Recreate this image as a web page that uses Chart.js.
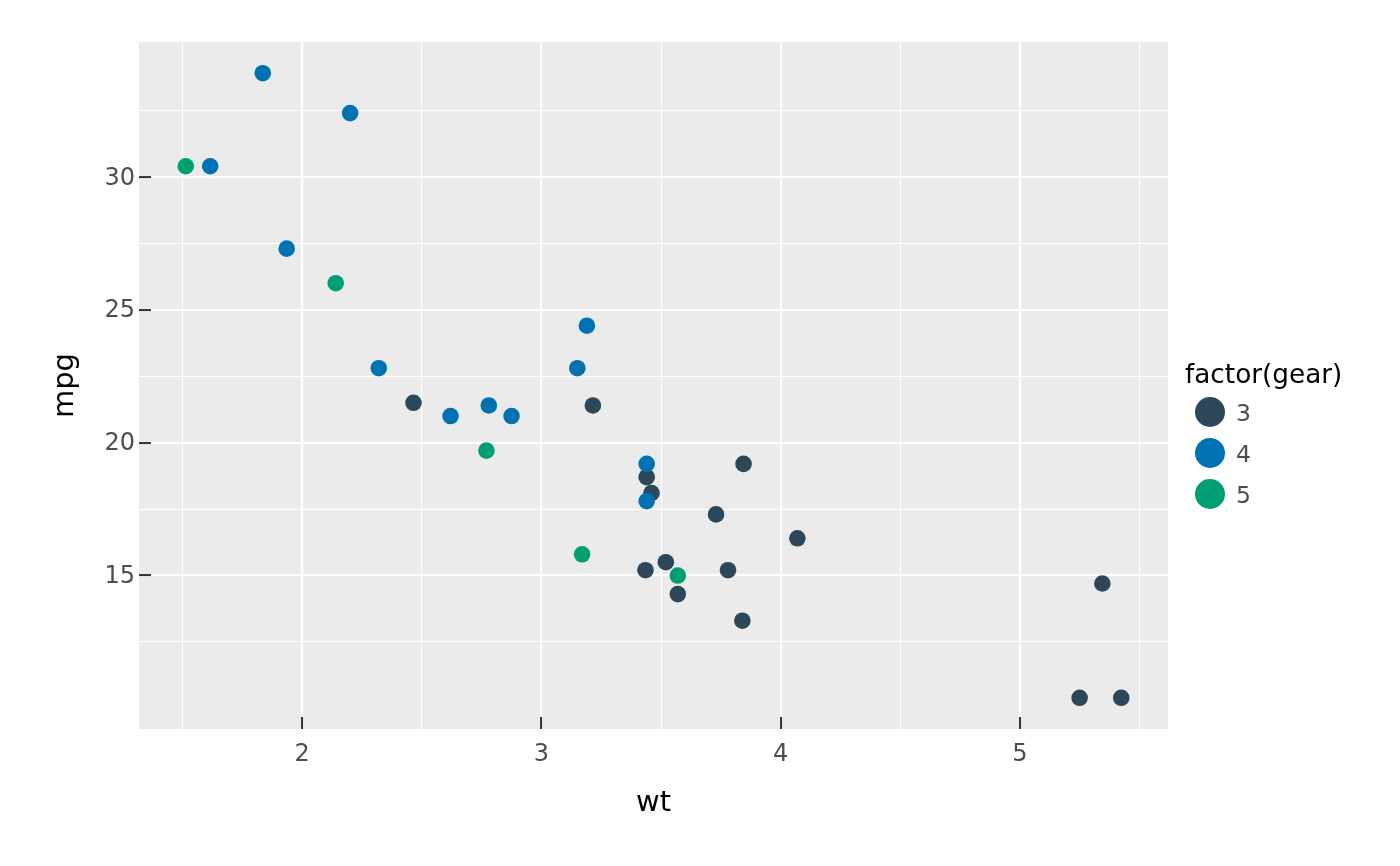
<!DOCTYPE html>
<html><head><meta charset="utf-8">
<script src="https://cdn.jsdelivr.net/npm/chart.js@4"></script>
<style>html,body{margin:0;padding:0;background:#fff}canvas{display:block}</style>
</head><body>
<canvas id="c" width="1400" height="866"></canvas>
<script>
// mtcars: wt vs mpg, grouped by gear
const gear3Wt  = [3.215, 3.440, 3.460, 3.570, 4.070, 3.730, 3.780, 5.250, 5.424, 5.345, 2.465, 3.520, 3.435, 3.840, 3.845];
const gear3Mpg = [21.4, 18.7, 18.1, 14.3, 16.4, 17.3, 15.2, 10.4, 10.4, 14.7, 21.5, 15.5, 15.2, 13.3, 19.2];
const gear4Wt  = [2.620, 2.875, 2.320, 3.190, 3.150, 3.440, 3.440, 2.200, 1.615, 1.835, 1.935, 2.780];
const gear4Mpg = [21.0, 21.0, 22.8, 24.4, 22.8, 19.2, 17.8, 32.4, 30.4, 33.9, 27.3, 21.4];
const gear5Wt  = [2.140, 1.513, 3.170, 2.770, 3.570];
const gear5Mpg = [26.0, 30.4, 15.8, 19.7, 15.0];
const gearLabels = ['3', '4', '5'];
const gearColors = ['#2c4759', '#0072b2', '#009e73'];
const xMajor = [2, 3, 4, 5];
const xMinor = [1.5, 2.5, 3.5, 4.5, 5.5];
const yMajor = [15, 20, 25, 30];
const yMinor = [12.5, 17.5, 22.5, 27.5, 32.5];
const xTitle = 'wt';
const yTitle = 'mpg';
const legendTitle = 'factor(gear)';

const allWt = gear3Wt.concat(gear4Wt, gear5Wt);
const allMpg = gear3Mpg.concat(gear4Mpg, gear5Mpg);
function expanded(arr) {
  const lo = Math.min(...arr), hi = Math.max(...arr), pad = (hi - lo) * 0.05;
  return [lo - pad, hi + pad];
}
const [xMin, xMax] = expanded(allWt);
const [yMin, yMax] = expanded(allMpg);

function pts(xs, ys) { return xs.map((x, i) => ({x: x, y: ys[i]})); }

const FONT = "'DejaVu Sans', sans-serif";

function axis(major, minor, min, max, title, pos) {
  const isMajor = v => major.includes(v);
  return {
    type: 'linear', position: pos, min: min, max: max,
    afterBuildTicks: s => { s.ticks = major.concat(minor).sort((a, b) => a - b).map(v => ({value: v})); },
    afterFit: s => { if (pos === 'bottom') s.height = 137; else s.width = 139; },
    ticks: {
      autoSkip: false, maxRotation: 0, minRotation: 0,
      padding: pos === 'bottom' ? 23 : 16,
      labelOffset: pos === 'bottom' ? 0 : 1.5,
      color: '#4d4d4d',
      font: {family: FONT, size: 24},
      callback: v => isMajor(v) ? String(v) : ''
    },
    grid: {
      color: '#ffffff',
      lineWidth: c => (c.tick && isMajor(c.tick.value)) ? 2.1 : 1.05,
      drawTicks: true,
      tickLength: -12,
      tickWidth: 2,
      tickColor: c => (c.tick && isMajor(c.tick.value)) ? '#333333' : 'rgba(0,0,0,0)'
    },
    border: {display: false},
    title: {
      display: true, text: title, color: '#000000',
      font: {family: FONT, size: 29},
      padding: pos === 'bottom' ? {top: 0, bottom: 45} : {top: 48, bottom: 0}
    }
  };
}

const panelBg = {
  id: 'panelBg',
  beforeDraw(chart) {
    const {ctx, chartArea: a} = chart;
    ctx.save();
    ctx.fillStyle = '#ebebeb';
    ctx.fillRect(a.left, a.top, a.right - a.left, a.bottom - a.top);
    ctx.restore();
  }
};

const ggLegend = {
  id: 'ggLegend',
  afterDraw(chart) {
    const {ctx, chartArea: a} = chart;
    const x0 = a.right + 17;
    ctx.save();
    ctx.fillStyle = '#000000';
    ctx.font = '26.3px ' + FONT;
    ctx.textAlign = 'left';
    ctx.textBaseline = 'alphabetic';
    ctx.fillText(legendTitle, x0, 383);
    chart.data.datasets.forEach((ds, i) => {
      const cy = 412 + i * 41;
      ctx.beginPath();
      ctx.arc(x0 + 25, cy, 15, 0, Math.PI * 2);
      ctx.fillStyle = ds.backgroundColor;
      ctx.fill();
      ctx.fillStyle = '#4d4d4d';
      ctx.font = '23.5px ' + FONT;
      ctx.fillText(ds.label, x0 + 51, cy + 8.5);
    });
    ctx.restore();
  }
};

new Chart(document.getElementById('c'), {
  type: 'scatter',
  data: {
    datasets: [
      {label: gearLabels[0], data: pts(gear3Wt, gear3Mpg), backgroundColor: gearColors[0], order: 3},
      {label: gearLabels[1], data: pts(gear4Wt, gear4Mpg), backgroundColor: gearColors[1], order: 2},
      {label: gearLabels[2], data: pts(gear5Wt, gear5Mpg), backgroundColor: gearColors[2], order: 1}
    ]
  },
  options: {
    responsive: false,
    animation: false,
    devicePixelRatio: 1,
    events: [],
    layout: {padding: {left: 0, top: 42, right: 232, bottom: 0}},
    elements: {point: {radius: 8.3, borderWidth: 0, hoverRadius: 8.3}},
    plugins: {legend: {display: false}, tooltip: {enabled: false}},
    scales: {
      x: axis(xMajor, xMinor, xMin, xMax, xTitle, 'bottom'),
      y: axis(yMajor, yMinor, yMin, yMax, yTitle, 'left')
    }
  },
  plugins: [panelBg, ggLegend]
});
</script>
</body></html>
